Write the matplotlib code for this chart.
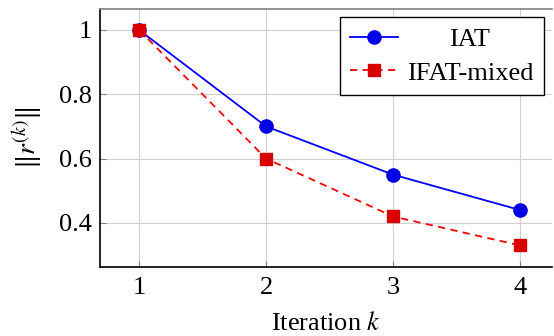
import matplotlib
matplotlib.use("Agg")
import matplotlib.pyplot as plt

iterations = [1, 2, 3, 4]
iat = [1.0, 0.70, 0.55, 0.44]
ifat_mixed = [1.0, 0.60, 0.42, 0.33]
xticks = [1, 2, 3, 4]
yticks = [0.4, 0.6, 0.8, 1.0]
ytick_labels = ["0.4", "0.6", "0.8", "1"]

plt.rcParams['font.family'] = ['Liberation Serif', 'DejaVu Serif']
plt.rcParams['mathtext.fontset'] = 'stix'

FS = 19

fig = plt.figure(figsize=(5.54, 3.36), dpi=100)
ax = fig.add_axes([100/554, 69/336, 452/554, 258/336])

ax.plot(iterations, iat, color=(0, 0, 1), lw=1.3, marker='o', ms=9.5,
        markerfacecolor=(0, 0, 0.9), markeredgecolor=(0, 0, 0.9), label='IAT', zorder=3)
ax.plot(iterations, ifat_mixed, color=(1, 0, 0), lw=1.3, ls=(0, (4, 3)), marker='s', ms=8,
        markerfacecolor=(0.85, 0, 0), markeredgecolor=(0.85, 0, 0), label='IFAT-mixed', zorder=4)

ax.set_xlim(0.693, 4.25)
ax.set_ylim(0.263, 1.065)
ax.set_xticks(xticks)
ax.set_yticks(yticks)
ax.set_yticklabels(ytick_labels)
ax.grid(True, color='#d0d0d0', lw=0.8)
ax.set_axisbelow(True)
ax.tick_params(direction='in', length=4, color='#808080', labelsize=FS, pad=6)
ax.tick_params(axis='x', pad=7.5)

for s in ['left', 'bottom']:
    ax.spines[s].set_color('black')
    ax.spines[s].set_linewidth(1.2)
ax.spines['top'].set_color('#808080')
ax.spines['top'].set_linewidth(1.2)
ax.spines['right'].set_visible(False)

ax.set_xlabel('Iteration $k$', fontsize=FS, labelpad=9)
ax.set_ylabel(r'$\|r^{(k)}\|$', fontsize=FS + 1, labelpad=9.5)

leg = ax.legend(loc='upper right', bbox_to_anchor=(0.982, 0.969), borderaxespad=0,
                fontsize=FS, frameon=True, fancybox=False, framealpha=1, edgecolor='black',
                handlelength=1.8, borderpad=0.4, labelspacing=0.38, handletextpad=0.35)
leg.get_frame().set_linewidth(1.0)

# center legend labels within the text column (pgfplots style)
fig.canvas.draw()
renderer = fig.canvas.get_renderer()
texts = leg.get_texts()
widths = [t.get_window_extent(renderer).width for t in texts]
wmax = max(widths)
for t, w in zip(texts, widths):
    t.set_x((wmax - w) / 2)

fig.savefig('out.png', dpi=100)
